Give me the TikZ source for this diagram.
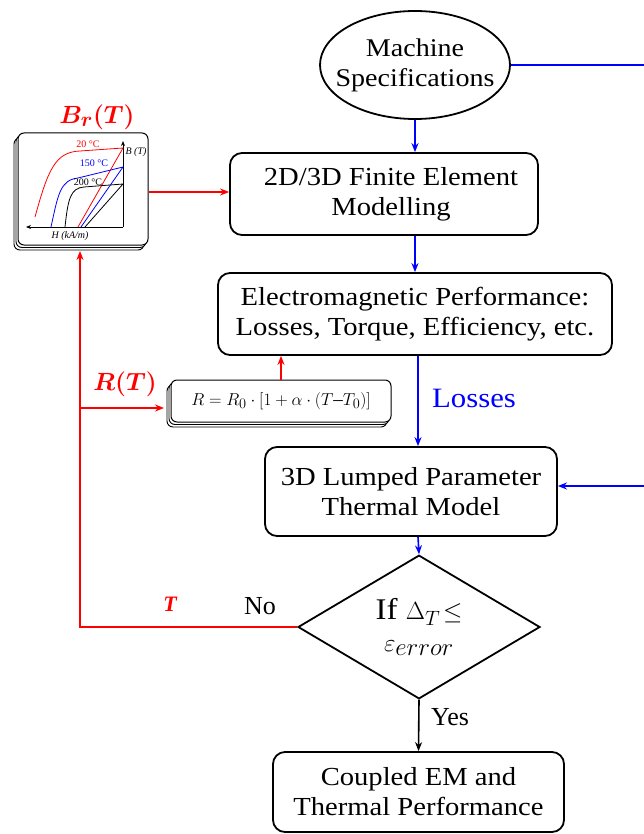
\documentclass[tikz,border=0pt]{standalone}
\usepackage{fontspec}
\setmainfont{Liberation Serif}
\newfontfamily\widefont[FakeStretch=1.1]{Liberation Serif}
\usetikzlibrary{shapes.geometric,arrows.meta,shadows}
\definecolor{fred}{RGB}{255,0,0}
\definecolor{fblue}{RGB}{0,0,255}
\begin{document}
\begin{tikzpicture}[x=1pt,y=-1pt,
  txt/.style={font=\widefont\fontsize{26}{30}\selectfont},
  box/.style={draw,rounded corners=12pt,line width=1.8pt,align=center,inner sep=0pt,txt},
  sbox/.style={draw,rounded corners=6pt,line width=1pt,fill=white,inner sep=0pt,
    double copy shadow={shadow xshift=-2pt,shadow yshift=-2.5pt,draw,line width=0.9pt,fill=white}},
  tip/.style={-{Stealth[length=9pt,width=7pt]}},
  bl/.style={fblue,line width=1.6pt,tip},
  rd/.style={fred,line width=1.6pt,tip},
  bk/.style={black,line width=1.6pt,tip},
  curve/.style={line width=0.8pt},
  small/.style={font=\fontsize{10}{11}\selectfont}]
\useasboundingbox (0,0) rectangle (644,834);
\clip (0,0) rectangle (644,834);

% main flow
\node[ellipse,draw,line width=1.8pt,minimum width=190pt,minimum height=108pt,inner sep=0pt] (spec) at (415,65) {};
\node[align=center,font=\widefont\fontsize{25.5}{30}\selectfont,inner sep=0pt] (spect) at (spec.center) {Machine\\Specifications};
\node[box,minimum width=308pt,minimum height=82pt] (fem) at (384,194) {\hspace*{14pt}2D/3D Finite Element\\\hspace*{14pt}Modelling};
\node[box,minimum width=394pt,minimum height=82pt] (emp) at (415,314) {Electromagnetic Performance:\\Losses, Torque, Efficiency, etc.};
\node[box,minimum width=292pt,minimum height=89pt] (lpt) at (411,491.5) {3D Lumped Parameter\\Thermal Model};
\node[diamond,draw,line width=1.8pt,minimum width=242pt,minimum height=130pt,inner sep=0pt,align=center,font=\widefont\fontsize{30}{32}\selectfont] (chk) at (419,627) {If $\Delta_T\!\leq$\\[0pt]{\fontsize{33}{34}\selectfont$\varepsilon_{error}$}};
\node[box,minimum width=291pt,minimum height=80pt] (res) at (418.5,792) {Coupled EM and\\Thermal Performance};

% temperature-dependent models
\node[sbox,minimum width=220pt,minimum height=42pt,font=\fontsize{19}{23}\selectfont] (rt) at (281,401) {$R = R_0\cdot[1+\alpha\cdot(T$–$T_0)]$};
\node[sbox,minimum width=130pt,minimum height=112pt] (bh) at (83,189) {};

% B-H curves inside the inset
\draw[line width=0.9pt,-{Stealth[length=5pt,width=4pt]}] (123,227) -- (123,141);
\draw[line width=0.9pt,-{Stealth[length=5pt,width=4pt]}] (123,227) -- (26,227);
\draw[curve,fred] (35,217) .. controls (48,170) and (55,152) .. (80,151) -- (123,148) -- (78,227);
\draw[curve,fblue] (51,227) .. controls (58,195) and (60,180) .. (78,178) -- (123,167) -- (81,227);
\draw[curve,black] (65,227) .. controls (68,200) and (70,188) .. (84,187) -- (123,184) -- (85,227);
\node[fred,small] (l20) at (88,144) {20 °C};
\node[fblue,small] (l150) at (94,163) {150 °C};
\node[small] (l200) at (88,182) {200 °C};
\node[small,font=\itshape] (lb) at (136,152) {B (T)};
\node[small,font=\itshape] (lh) at (70,236) {H (kA/m)};

% blue connectors
\coordinate (rr) at (680,0);
\coordinate (mx) at (418,0);
\draw[bl] (spec.south) -- (spec.south |- fem.north);
\draw[bl] (emp.north |- fem.south) -- (emp.north);
\draw[bl] (mx |- emp.south) -- (mx |- lpt.north);
\draw[bl] (mx |- lpt.south) -- (chk.north);
\draw[bl] (spec.east) -| (rr |- 0,486) -- (lpt.east |- 0,486);
\draw[bk] (chk.south) -- (res.north);

% red connectors
\coordinate (lx) at (80,0);
\coordinate (bhb) at (80,251);
\coordinate (rtw) at (164,408);
\draw[rd] (chk.west) -| (bhb);
\draw[rd] (lx |- rtw) -- (rtw);
\draw[rd] (rt.north) -- (rt.north |- emp.south);
\draw[rd] (bh.east |- 0,192) -- (fem.west |- 0,192);

% labels
\node[fred,font=\fontsize{28}{30}\selectfont\boldmath] (lbr) at (97,117) {$B_r(T)$};
\node[fred,font=\fontsize{24}{26}\selectfont\boldmath] (lrt) at (125,384) {$R(T)$};
\node[fred,font=\fontsize{22}{24}\selectfont\bfseries\itshape] (lt) at (170,604) {T};
\node[fblue,font=\widefont\fontsize{28}{30}\selectfont] (lloss) at (474,398) {Losses};
\node[font=\fontsize{26}{28}\selectfont] (lno) at (260,606) {No};
\node[font=\fontsize{26}{28}\selectfont] (lyes) at (450,717) {Yes};
\end{tikzpicture}
\end{document}
